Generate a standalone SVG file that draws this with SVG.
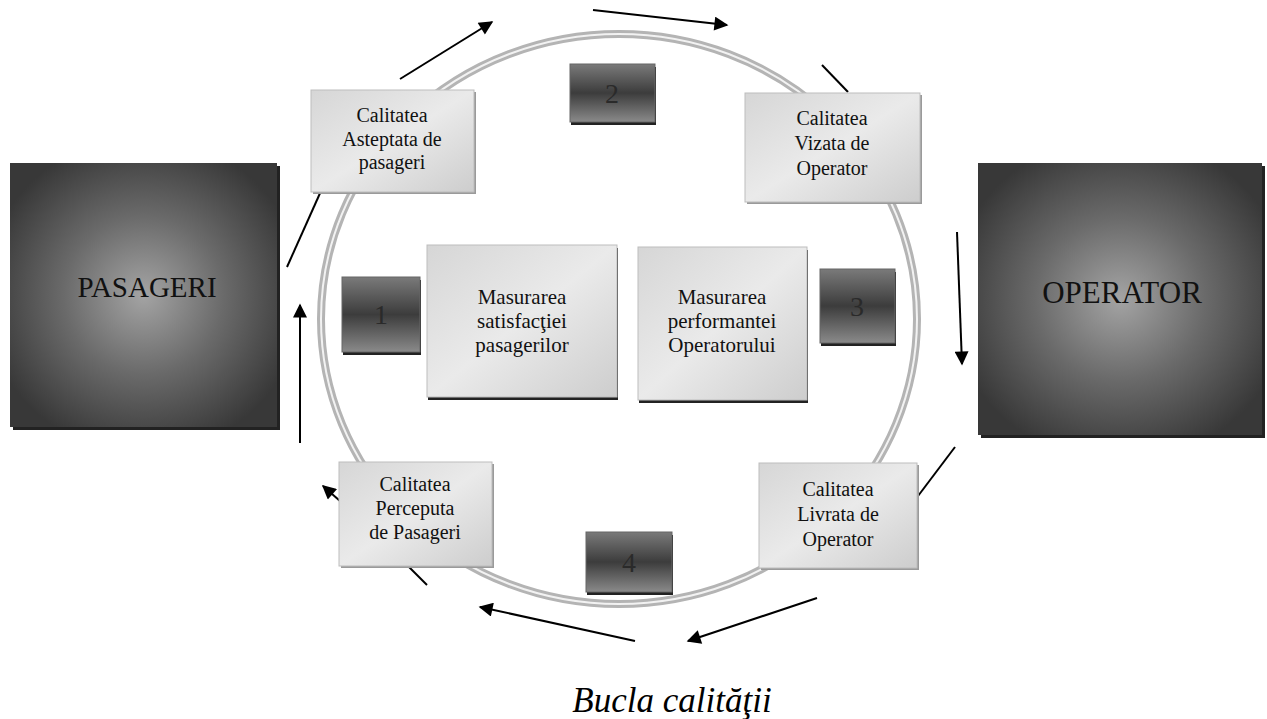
<svg xmlns="http://www.w3.org/2000/svg" width="1267" height="719" viewBox="0 0 1267 719">
<defs>
<radialGradient id="bigG" cx="0.5" cy="0.5" r="0.6">
<stop offset="0" stop-color="#a4a4a4"/>
<stop offset="0.5" stop-color="#6a6a6a"/>
<stop offset="1" stop-color="#383838"/>
</radialGradient>
<linearGradient id="numG" x1="0" y1="0" x2="0" y2="1">
<stop offset="0" stop-color="#7a7a7a"/>
<stop offset="0.5" stop-color="#3c3c3c"/>
<stop offset="1" stop-color="#8a8a8a"/>
</linearGradient>
<linearGradient id="lightG" x1="0" y1="0" x2="1" y2="1">
<stop offset="0" stop-color="#d6d6d6"/>
<stop offset="0.5" stop-color="#eaeaea"/>
<stop offset="1" stop-color="#cdcdcd"/>
</linearGradient>
<marker id="ahb" viewBox="0 0 10 10" refX="9" refY="5" markerWidth="16" markerHeight="14" orient="auto" markerUnits="userSpaceOnUse">
<path d="M0,0 L10,5 L0,10 z" fill="#000"/>
</marker>
</defs>
<style>
.lbl{font-family:"Liberation Serif","Times New Roman",serif;font-size:20px;fill:#111;text-anchor:middle}
.lbl2{font-family:"Liberation Serif","Times New Roman",serif;font-size:21px;fill:#111;text-anchor:middle}
.big{font-family:"Liberation Serif","Times New Roman",serif;fill:#111;text-anchor:middle}
.num{font-family:"Liberation Serif","Times New Roman",serif;font-size:28px;fill:#2a2a2a;text-anchor:middle}
.light{fill:url(#lightG);stroke:#bdbdbd;stroke-width:1}
.numbox{fill:url(#numG);stroke:#666;stroke-width:1}
.shadow{fill:#222}
.conn{stroke:#000;stroke-width:2;fill:none}
</style>
<rect width="1267" height="719" fill="#fff"/>

<g id="ring">
<ellipse cx="619" cy="319" rx="298" ry="285" fill="none" stroke="#b4b4b4" stroke-width="8"/>
<ellipse cx="619" cy="319" rx="298" ry="285" fill="none" stroke="#f2f2f2" stroke-width="2"/>
</g>

<g id="connectors">
<line class="conn" x1="400" y1="79" x2="492" y2="22" marker-end="url(#ahb)"/>
<line class="conn" x1="593" y1="10" x2="727" y2="25" marker-end="url(#ahb)"/>
<line class="conn" x1="822" y1="65" x2="848" y2="92"/>
<line class="conn" x1="957" y1="232" x2="962" y2="364" marker-end="url(#ahb)"/>
<line class="conn" x1="955" y1="447" x2="915" y2="500"/>
<line class="conn" x1="817" y1="598" x2="688" y2="641" marker-end="url(#ahb)"/>
<line class="conn" x1="635" y1="641" x2="480" y2="607" marker-end="url(#ahb)"/>
<line class="conn" x1="427" y1="585" x2="405" y2="563"/>
<line class="conn" x1="340" y1="501" x2="323" y2="486" marker-end="url(#ahb)"/>
<line class="conn" x1="300" y1="443" x2="300" y2="305" marker-end="url(#ahb)"/>
<line class="conn" x1="287" y1="267" x2="321" y2="191"/>
</g>

<g id="pasageri">
<rect x="13" y="166" width="267" height="264" class="shadow"/>
<rect x="10" y="163" width="267" height="264" fill="url(#bigG)"/>
<text class="big" x="147" y="297" font-size="29">PASAGERI</text>
</g>

<g id="operator">
<rect x="981" y="166" width="284" height="272" class="shadow"/>
<rect x="978" y="163" width="284" height="272" fill="url(#bigG)"/>
<text class="big" x="1122" y="303" font-size="31">OPERATOR</text>
</g>

<g id="asteptata">
<rect x="313" y="92" width="163" height="102" fill="#9a9a9a"/>
<rect x="311" y="90" width="163" height="102" class="light"/>
<text class="lbl" x="392" y="122">Calitatea</text>
<text class="lbl" x="392" y="146">Asteptata de</text>
<text class="lbl" x="392" y="169">pasageri</text>
</g>

<g id="vizata">
<rect x="747" y="95" width="175" height="109" fill="#9a9a9a"/>
<rect x="745" y="93" width="175" height="109" class="light"/>
<text class="lbl" x="832" y="125">Calitatea</text>
<text class="lbl" x="832" y="150">Vizata de</text>
<text class="lbl" x="832" y="175">Operator</text>
</g>

<g id="perceputa">
<rect x="341" y="464" width="153" height="104" fill="#9a9a9a"/>
<rect x="339" y="462" width="153" height="104" class="light"/>
<text class="lbl" x="415" y="491">Calitatea</text>
<text class="lbl" x="415" y="515">Perceputa</text>
<text class="lbl" x="415" y="539">de Pasageri</text>
</g>

<g id="livrata">
<rect x="761" y="465" width="158" height="105" fill="#9a9a9a"/>
<rect x="759" y="463" width="158" height="105" class="light"/>
<text class="lbl" x="838" y="496">Calitatea</text>
<text class="lbl" x="838" y="521">Livrata de</text>
<text class="lbl" x="838" y="546">Operator</text>
</g>

<g id="satisfactie">
<rect x="428" y="248" width="190" height="152" class="shadow"/>
<rect x="427" y="245" width="190" height="152" class="light"/>
<text class="lbl2" x="522" y="304">Masurarea</text>
<text class="lbl2" x="522" y="328">satisfacţiei</text>
<text class="lbl2" x="522" y="352">pasagerilor</text>
</g>

<g id="performanta">
<rect x="639" y="250" width="169" height="153" class="shadow"/>
<rect x="638" y="247" width="169" height="153" class="light"/>
<text class="lbl2" x="722" y="304">Masurarea</text>
<text class="lbl2" x="722" y="328">performantei</text>
<text class="lbl2" x="722" y="352">Operatorului</text>
</g>

<g id="n1">
<rect x="343" y="280" width="78" height="75" class="shadow"/>
<rect x="342" y="277" width="78" height="75" class="numbox"/>
<text class="num" x="381" y="324">1</text>
</g>
<g id="n2">
<rect x="571" y="67" width="85" height="58" class="shadow"/>
<rect x="570" y="64" width="85" height="58" class="numbox"/>
<text class="num" x="612" y="103">2</text>
</g>
<g id="n3">
<rect x="821" y="272" width="75" height="74" class="shadow"/>
<rect x="820" y="269" width="75" height="74" class="numbox"/>
<text class="num" x="857" y="316">3</text>
</g>
<g id="n4">
<rect x="587" y="535" width="86" height="60" class="shadow"/>
<rect x="586" y="532" width="86" height="60" class="numbox"/>
<text class="num" x="629" y="572">4</text>
</g>

<text x="672" y="712" font-family="'Liberation Serif','Times New Roman',serif" font-style="italic" font-size="35" fill="#000" text-anchor="middle">Bucla calităţii</text>
</svg>
